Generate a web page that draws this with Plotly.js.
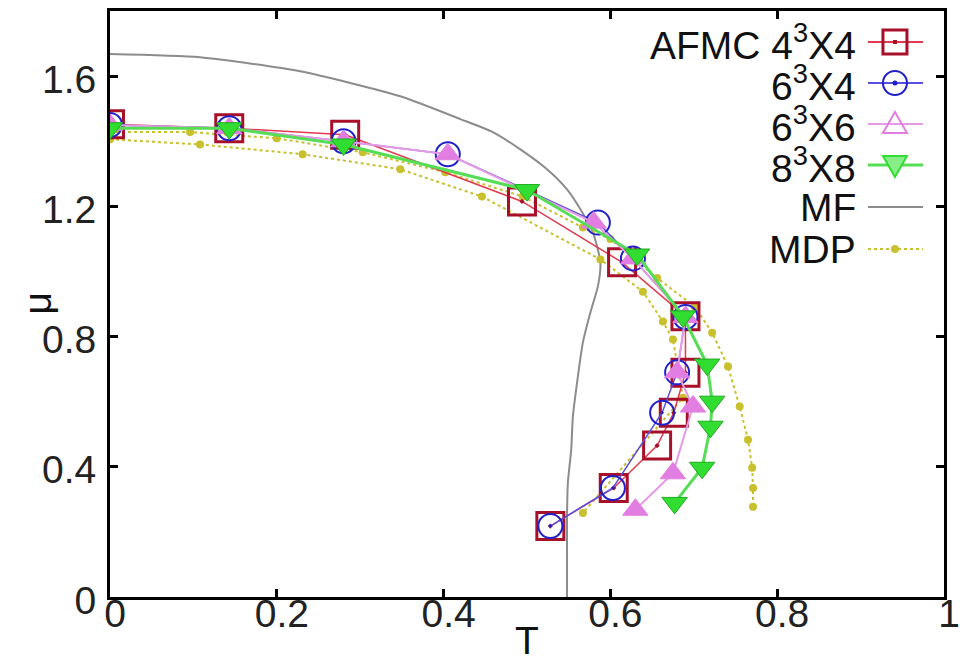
<!DOCTYPE html>
<html><head><meta charset="utf-8">
<script src="https://cdn.plot.ly/plotly-3.0.1.min.js"></script>
<style>html,body{margin:0;padding:0;background:#fff}#chart{width:965px;height:661px}</style>
</head><body><div id="chart"></div>
<script>
// AFMC 4^3 x 4
const t443 = [0, 0.143, 0.282, 0.494, 0.614, 0.69, 0.69, 0.676, 0.656, 0.604, 0.528];
const mu443 = [1.452, 1.44, 1.42, 1.215, 1.028, 0.862, 0.689, 0.566, 0.465, 0.335, 0.218];
// 6^3 x 4
const t634 = [0, 0.143, 0.28, 0.405, 0.585, 0.627, 0.69, 0.68, 0.662, 0.603, 0.528];
const mu634 = [1.45, 1.44, 1.40, 1.36, 1.15, 1.04, 0.86, 0.69, 0.566, 0.335, 0.218];
// 6^3 x 6
const t636 = [0, 0.143, 0.28, 0.405, 0.58, 0.627, 0.69, 0.68, 0.699, 0.675, 0.63];
const mu636 = [1.45, 1.44, 1.40, 1.36, 1.15, 1.04, 0.86, 0.69, 0.585, 0.38, 0.268];
// 8^3 x 8
const t838 = [0, 0.143, 0.28, 0.5, 0.632, 0.687, 0.716, 0.722, 0.72, 0.71, 0.677];
const mu838 = [1.44, 1.44, 1.39, 1.25, 1.052, 0.862, 0.714, 0.60, 0.523, 0.397, 0.289];
// mean field
const tMF = [0, 0.108, 0.228, 0.348, 0.42, 0.459, 0.492, 0.524, 0.548, 0.564, 0.579, 0.588, 0.585, 0.576, 0.567, 0.56, 0.555, 0.553, 0.549, 0.548, 0.548, 0.548];
const muMF = [1.668, 1.658, 1.615, 1.538, 1.468, 1.428, 1.375, 1.314, 1.252, 1.191, 1.12, 1.028, 0.954, 0.874, 0.782, 0.658, 0.554, 0.452, 0.351, 0.246, 0.145, 0];
// MDP (two branches)
const tMDPa = [0, 0.096, 0.2, 0.303, 0.402, 0.495, 0.567, 0.6, 0.656, 0.701, 0.722, 0.741, 0.755, 0.765, 0.77, 0.771, 0.771];
const muMDPa = [1.428, 1.428, 1.409, 1.366, 1.305, 1.23, 1.135, 1.10, 0.98, 0.892, 0.812, 0.708, 0.585, 0.483, 0.397, 0.335, 0.277];
const tMDPb = [0, 0.108, 0.231, 0.348, 0.446, 0.588, 0.639, 0.663, 0.675, 0.687, 0.567];
const muMDPb = [1.406, 1.39, 1.36, 1.314, 1.23, 1.037, 0.938, 0.846, 0.791, 0.612, 0.258];

const xTicks = [0, 0.2, 0.4, 0.6, 0.8, 1];
const xTickText = ['0', '0.2', '0.4', '0.6', '0.8', '1'];
const yTicks = [0, 0.4, 0.8, 1.2, 1.6];
const yTickText = ['0', '0.4', '0.8', '1.2', '1.6'];

const legendNames = ['AFMC 4<sup>3</sup>X4', '6<sup>3</sup>X4', '6<sup>3</sup>X6', '8<sup>3</sup>X8', 'MF', 'MDP'];

const C443 = '#a8102a', L443 = '#e23a50';
const C634 = '#2020c8', L634 = '#5a50e0';
const C636 = '#e27ee2', L636 = '#e69ae6';
const C838 = '#30dd30', L838 = '#55dd55';
const CMF = '#8c8c8c';
const CMDP = '#c8c02c';

const traces = [
  {x: tMF, y: muMF, mode: 'lines', name: 'MF', line: {color: CMF, width: 2, shape: 'spline', smoothing: 0.6}},
  {x: tMDPb, y: muMDPb, mode: 'lines+markers', name: 'MDP', line: {color: CMDP, width: 2, dash: 'dot'}, marker: {color: CMDP, size: 8}},
  {x: tMDPa, y: muMDPa, mode: 'lines+markers', name: 'MDP', line: {color: CMDP, width: 2, dash: 'dot'}, marker: {color: CMDP, size: 8}},
  {x: t443, y: mu443, mode: 'lines+markers', name: 'AFMC 4^3X4', line: {color: L443, width: 1.5},
   marker: {symbol: 'square-open-dot', size: 27, color: C443, line: {width: 3, color: C443}}},
  {x: t634, y: mu634, mode: 'lines+markers', name: '6^3X4', line: {color: L634, width: 1.5},
   marker: {symbol: 'circle-open-dot', size: 24, color: C634, line: {width: 2, color: C634}}},
  {x: t636, y: mu636, mode: 'lines+markers', name: '6^3X6', line: {color: L636, width: 2},
   marker: {symbol: 'triangle-up', size: 22, color: C636, line: {width: 1, color: C636}}},
  {x: t838, y: mu838, mode: 'lines+markers', name: '8^3X8', line: {color: L838, width: 3},
   marker: {symbol: 'triangle-down', size: 22, color: C838, line: {width: 1, color: '#22aa22'}}}
];

const FONT = 'Liberation Sans, Arial, sans-serif';
const rows = [0.9471, 0.8771, 0.8072, 0.7372, 0.6655, 0.5939];
const textX = 0.8969, lx0 = 0.9089, lx1 = 0.9748, mx = 0.9412;

const annotations = legendNames.map((n, i) => ({
  xref: 'paper', yref: 'paper', x: textX, y: rows[i], xanchor: 'right', yanchor: 'middle', height: 40,
  text: n, showarrow: false, font: {family: FONT, size: 39, color: '#111'}
}));
annotations.push({xref: 'paper', yref: 'paper', x: 0.5, y: -0.0734, xanchor: 'center', yanchor: 'middle',
  text: 'T', showarrow: false, font: {family: FONT, size: 39, color: '#111'}});
annotations.push({xref: 'paper', yref: 'paper', x: -0.088, y: 0.5, xanchor: 'center', yanchor: 'middle',
  text: 'μ', textangle: -90, showarrow: false, font: {family: FONT, size: 39, color: '#111'}});

const lineColors = [L443, L634, L636, L838, CMF, CMDP];
const shapes = [];
lineColors.forEach((c, i) => {
  shapes.push({type: 'line', xref: 'paper', yref: 'paper', x0: lx0, x1: lx1, y0: rows[i], y1: rows[i],
    line: {color: c, width: i === 3 ? 3 : 2, dash: i === 5 ? 'dot' : 'solid'}});
});
function px(i, extra) {
  return Object.assign({xref: 'paper', yref: 'paper', xsizemode: 'pixel', ysizemode: 'pixel', xanchor: mx, yanchor: rows[i]}, extra);
}
shapes.push(px(0, {type: 'rect', x0: -12, x1: 12, y0: -12, y1: 12, line: {color: C443, width: 3}}));
shapes.push(px(0, {type: 'rect', x0: -2, x1: 2, y0: -2, y1: 2, fillcolor: C443, line: {width: 0}}));
shapes.push(px(1, {type: 'circle', x0: -12, x1: 12, y0: -12, y1: 12, line: {color: C634, width: 2}}));
shapes.push(px(1, {type: 'circle', x0: -2.5, x1: 2.5, y0: -2.5, y1: 2.5, fillcolor: C634, line: {width: 0}}));
shapes.push(px(2, {type: 'path', path: 'M -12 -9 L 12 -9 L 0 12 Z', line: {color: C636, width: 2}}));
shapes.push(px(3, {type: 'path', path: 'M -12 9 L 12 9 L 0 -12 Z', fillcolor: '#88ee88', line: {color: C838, width: 2}}));
shapes.push(px(5, {type: 'circle', x0: -4, x1: 4, y0: -4, y1: 4, fillcolor: CMDP, line: {width: 0}}));

const layout = {
  width: 965, height: 661,
  margin: {l: 110, r: 21, t: 11, b: 64},
  paper_bgcolor: '#fff', plot_bgcolor: '#fff',
  showlegend: false,
  font: {family: FONT, size: 39, color: '#111'},
  xaxis: {range: [0, 1], tickvals: xTicks, ticktext: xTickText, ticks: 'inside', ticklen: 8, tickwidth: 3,
    tickcolor: '#000', showline: true, linecolor: '#000', linewidth: 3, mirror: 'ticks', showgrid: false,
    zeroline: false, ticklabelshift: 5, ticklabelstandoff: -20, tickfont: {family: FONT, size: 39, color: '#222'}},
  yaxis: {range: [0, 1.8], tickvals: yTicks, ticktext: yTickText, ticks: 'inside', ticklen: 8, tickwidth: 3,
    tickcolor: '#000', showline: true, linecolor: '#000', linewidth: 3, mirror: 'ticks', showgrid: false,
    zeroline: false, ticklabelstandoff: 3, ticklabelshift: 3, tickfont: {family: FONT, size: 39, color: '#222'}},
  annotations: annotations,
  shapes: shapes
};

Plotly.newPlot('chart', traces, layout, {staticPlot: true, displayModeBar: false});
</script>
</body></html>
